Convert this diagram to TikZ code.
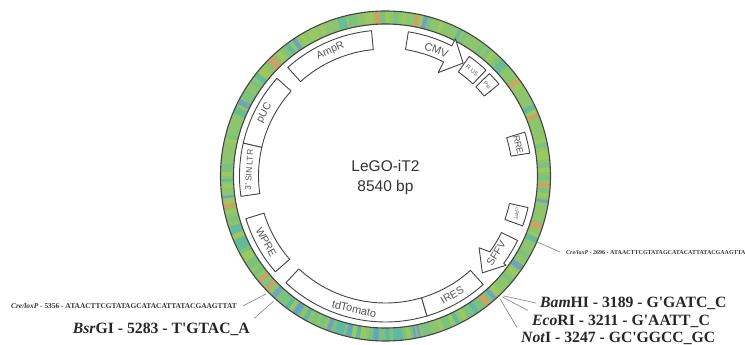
\documentclass[tikz,border=0pt]{standalone}
\usepackage{fontspec}
\setmainfont{Liberation Sans}
\newfontfamily\sitefont{Liberation Serif}
\usetikzlibrary{positioning}

\definecolor{ringgreen}{HTML}{8CC56E}
\definecolor{ringlime}{HTML}{9CC862}
\definecolor{ringmint}{HTML}{7CC17E}
\definecolor{ringteal}{HTML}{5FB8A2}
\definecolor{ringblue}{HTML}{6C9CCB}
\definecolor{ringorange}{HTML}{DE9A62}
\definecolor{linegray}{HTML}{444444}
\definecolor{textgray}{HTML}{555555}

\begin{document}
\begin{tikzpicture}[
    x=1pt, y=1pt,
    feature/.style={draw=linegray, line width=.9pt, fill=white, line join=round},
    flabel/.style={text=textgray, inner sep=0pt},
    site/.style={font=\sitefont\bfseries\fontsize{15.7}{15.7}\selectfont, text=black!85, inner sep=4pt},
    cre/.style={font=\sitefont\bfseries\fontsize{7.4}{7.4}\selectfont, text=black!80, inner sep=6pt},
    tick/.style={draw=black!50, line width=.6pt}
  ]
    \useasboundingbox (-385.5,-169) rectangle (359.5,176);

    % ring
    \pgfmathsetseed{2696}
    \pgfmathdeclarerandomlist{upper}{{ringgreen}{ringgreen}{ringlime}{ringmint}{ringgreen}{ringlime}{ringmint}{ringgreen}}
    \pgfmathdeclarerandomlist{lower}{{ringgreen}{ringlime}{ringteal}{ringmint}{ringteal}{ringmint}{ringgreen}{ringmint}}
    \foreach \a in {0,1.5,...,358.5} {
      \ifdim\a pt>226pt \ifdim\a pt<312pt
        \pgfmathrandomitem{\col}{lower}
      \else
        \pgfmathrandomitem{\col}{upper}
      \fi\else
        \pgfmathrandomitem{\col}{upper}
      \fi
      \draw[line width=13pt, \col] (\a:158.5) arc[start angle=\a, delta angle=1.7, radius=158.5];
    }
    \foreach \a/\w/\col in {92/2/ringorange, 104/3/ringteal, 123/1.5/ringblue, 126/1.5/ringteal,
        133/3/ringorange, 141/2/ringteal, 152/2/ringblue, 155/2.5/ringteal, 181/1/ringteal,
        187/1/ringblue, 190/1.5/ringorange, 198/3/ringteal, 203/4/ringteal, 219/1.5/ringorange,
        223/1.5/ringorange, 226/2/ringblue, 236/2/ringblue, 249/1.5/ringblue, 256/1.5/ringblue,
        266/1.5/ringblue, 280/1/ringblue, 281.5/1/ringblue, 78/1.5/ringorange, 75/1.5/ringblue,
        62/1.5/ringteal, 42/3/ringteal, 35/1.5/ringorange, 24/2/ringteal, 21/1.5/ringorange,
        -4/1.5/ringorange, -9.5/1/ringblue, -19/2/ringorange, -24/2/ringteal, -35/2/ringblue,
        -49/1.5/ringblue, -52.5/2/ringorange} {
      \draw[line width=13pt, \col, opacity=.8] (\a:158.5) arc[start angle=\a, delta angle=\w, radius=158.5];
    }
    \draw[linegray, line width=1.1pt] (0,0) circle[radius=165];
    \draw[linegray, line width=1.1pt] (0,0) circle[radius=152];

    % features
    \foreach \nm/\from/\to/\rot/\fs/\txt in {
        ampR/95.5/132/24/10.5/AmpR, puc/138/167/62/10.5/pUC, ltr/167/188/87/8.5/3' SIN LTR,
        wpre/197/221/-61/10.5/WPRE, tomato/227/286.5/-13/11/tdTomato, ires/286.5/312/29/10.5/IRES,
        ufive/46.5/55/-39/6/R U5, psi/39/44.6/-48/5.5/Psi, rre/9/17.5/-77/9/RRE, cppt/-20/-12.5/-100/5/cPPT} {
      \draw[feature] (\from:146) arc[start angle=\from, end angle=\to, radius=146]
        -- (\to:127) arc[start angle=\to, end angle=\from, radius=127] -- cycle;
      \pgfmathsetmacro{\mid}{(\from+\to)/2}
      \node[flabel, font=\fontsize{\fs}{\fs}\selectfont, rotate=\rot] (\nm) at (\mid:136.5) {\txt};
    }
    % arrows
    \draw[feature] (81:146) arc[start angle=81, end angle=63, radius=146] -- (63:154) -- (55.5:137)
      -- (63:116) -- (63:128) arc[start angle=63, end angle=81, radius=128] -- cycle;
    \node[flabel, font=\fontsize{11}{11}\selectfont, rotate=-21] (cmv) at (68:136) {CMV};
    \draw[feature] (-26:147) arc[start angle=-26, end angle=-36.5, radius=147] -- (-36.5:150) -- (-45:137)
      -- (-37.5:118) -- (-36:129) arc[start angle=-36, end angle=-26, radius=129] -- cycle;
    \node[flabel, font=\fontsize{10.5}{10.5}\selectfont, rotate=58] (sffv) at (-35:135) {SFFV};

    \node[font=\fontsize{15.5}{20}\selectfont, align=center, text=black!80, inner sep=0pt] (title) at (0,-1) {LeGO-iT2\\8540 bp};

    % sites
    \coordinate (creRsite) at (-23.5:166);
    \coordinate (bamsite) at (-45.5:168);
    \coordinate (ecosite) at (-46:168);
    \coordinate (notsite) at (-47:168);
    \coordinate (creLsite) at (-135.4:168);
    \coordinate (bsrsite) at (-131.8:168);

    \node[cre, anchor=west, font=\sitefont\bfseries\fontsize{6}{6}\selectfont] (creR) at (174.5,-76) {\textit{Cre/loxP} - 2696 - ATAACTTCGTATAGCATACATTATACGAAGTTA};
    \node[cre, anchor=east] (creL) at (-142.5,-130) {\textit{Cre/loxP} - 5356 - ATAACTTCGTATAGCATACATTATACGAAGTTAT};
    \node[site, anchor=west] (bam) at (150.5,-127) {\textit{Bam}HI - 3189 - G\textquotesingle GATC\_C};
    \node[site, anchor=west] (eco) at (142.5,-145) {\textit{Eco}RI - 3211 - G\textquotesingle AATT\_C};
    \node[site, anchor=west] (not) at (131.5,-162) {\textit{Not}I - 3247 - GC\textquotesingle GGCC\_GC};
    \node[site, anchor=east] (bsr) at (-131.5,-153) {\textit{Bsr}GI - 5283 - T\textquotesingle GTAC\_A};

    \draw[tick] (creRsite) -- (creR.west);
    \draw[tick] (bamsite) -- (bam.west);
    \draw[tick] (ecosite) -- (eco.north west);
    \draw[tick] (notsite) -- (not.north west);
    \draw[tick] (creLsite) -- (creL.east);
    \draw[tick] (bsrsite) -- (bsr.north east);
\end{tikzpicture}
\end{document}
